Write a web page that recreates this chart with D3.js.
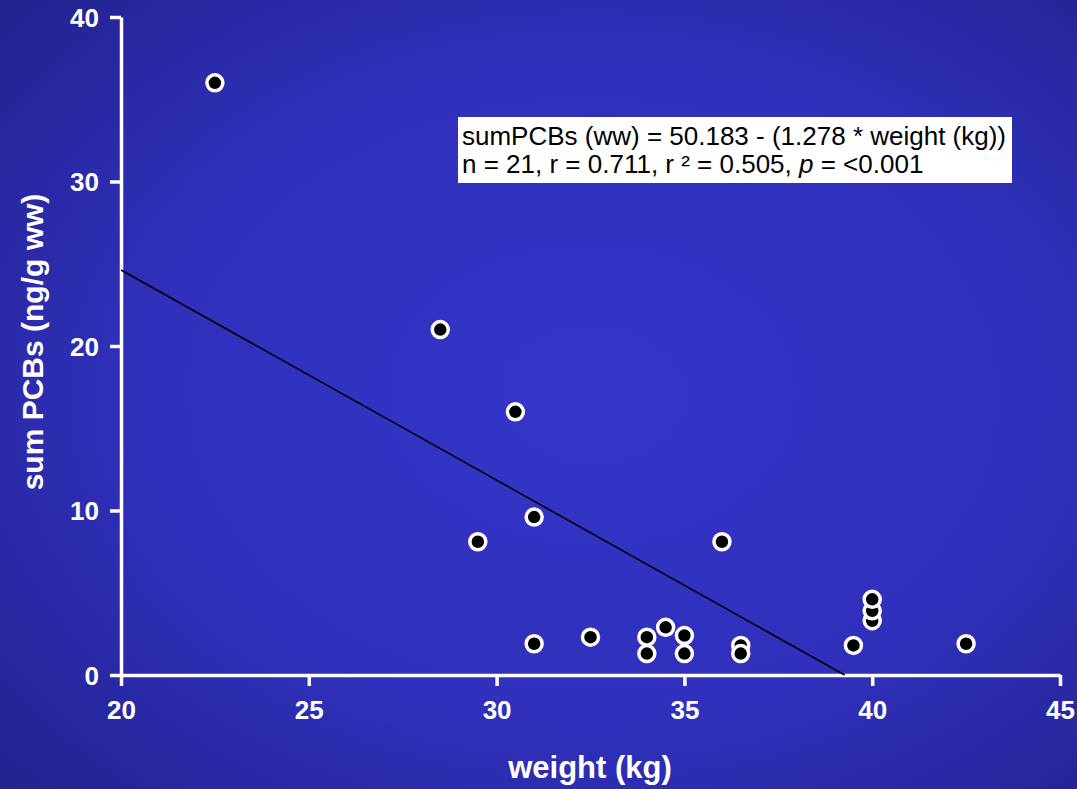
<!DOCTYPE html>
<html>
<head>
<meta charset="utf-8">
<script src="https://cdn.jsdelivr.net/npm/d3@7"></script>
<style>
  html, body { margin: 0; padding: 0; background: #2a2aa8; }
  svg { display: block; }
</style>
</head>
<body>
<svg id="chart" width="1077" height="789"></svg>
<script>
'use strict';

// data
var weights = [22.5, 28.5, 30.5, 29.5, 31, 31, 32.5, 34, 34, 34.5, 35, 35, 36, 36.5, 36.5, 39.5, 40, 40, 40, 42.5];
var sumPCBs = [36.0, 21.0, 16.0, 8.1, 9.6, 1.9, 2.3, 2.3, 1.3, 2.9, 2.4, 1.3, 8.1, 1.8, 1.3, 1.8, 3.3, 3.9, 4.6, 1.9];
var xTicks = [20, 25, 30, 35, 40, 45];
var yTicks = [0, 10, 20, 30, 40];
var fitIntercept = 50.183, fitSlope = -1.278;
var eqLines = ['sumPCBs (ww) = 50.183 - (1.278 * weight (kg))'];

var svg = d3.select('#chart');

// background gradient
var defs = svg.append('defs');
var grad = defs.append('radialGradient')
	.attr('id', 'bg')
	.attr('cx', '55%').attr('cy', '50%').attr('r', '75%');
grad.append('stop').attr('offset', '0%').attr('stop-color', '#3535c8');
grad.append('stop').attr('offset', '55%').attr('stop-color', '#3030bc');
grad.append('stop').attr('offset', '100%').attr('stop-color', '#22228e');
svg.append('rect').attr('width', 1077).attr('height', 789).attr('fill', 'url(#bg)');

var x = d3.scaleLinear().domain([20, 45]).range([121, 1060]);
var y = d3.scaleLinear().domain([0, 40]).range([675, 17]);

var font = '"Liberation Sans", Arial, sans-serif';

// axes
var yAxis = svg.append('g')
	.attr('transform', 'translate(' + x(20) + ',0)')
	.call(d3.axisLeft(y).tickValues(yTicks).tickSize(11).tickPadding(11).tickSizeOuter(0));
var xAxis = svg.append('g')
	.attr('transform', 'translate(0,' + y(0) + ')')
	.call(d3.axisBottom(x).tickValues(xTicks).tickSize(11).tickPadding(15).tickSizeOuter(0));

[xAxis, yAxis].forEach(function(a){
	a.select('.domain').attr('stroke', '#fff').attr('stroke-width', 3.5);
	a.selectAll('.tick line').attr('stroke', '#fff').attr('stroke-width', 3.5);
	a.selectAll('.tick text')
		.attr('fill', '#fff')
		.style('font-family', font)
		.style('font-weight', 'bold')
		.style('font-size', '26px');
});
yAxis.selectAll('.tick text').attr('dy', '0.36em');

// regression line, from x=20 down to where it meets 0
var xEnd = -fitIntercept / fitSlope;
svg.append('line')
	.attr('x1', x(20)).attr('y1', y(fitIntercept + fitSlope * 20))
	.attr('x2', x(xEnd)).attr('y2', y(0))
	.attr('stroke', '#000').attr('stroke-width', 1.6);

// points
svg.append('g').selectAll('circle')
	.data(weights)
	.enter().append('circle')
	.attr('cx', function(d){ return x(d); })
	.attr('cy', function(d, i){ return y(sumPCBs[i]); })
	.attr('r', 8)
	.attr('fill', '#000')
	.attr('stroke', '#fff')
	.attr('stroke-width', 3.5);

// equation box
svg.append('rect')
	.attr('x', 458).attr('y', 117).attr('width', 554).attr('height', 66)
	.attr('fill', '#fff');
var eq = svg.append('text')
	.style('font-family', font)
	.style('font-size', '26px')
	.attr('fill', '#000');
eq.append('tspan').attr('x', 462).attr('y', 145).text(eqLines[0]);
var l2 = eq.append('tspan').attr('x', 462).attr('y', 173);
l2.append('tspan').text('n = 21, r = 0.711, r \u00b2 = 0.505, ');
l2.append('tspan').style('font-style', 'italic').text('p');
l2.append('tspan').text(' = <0.001');

// axis titles
svg.append('text')
	.attr('x', 590).attr('y', 778)
	.attr('text-anchor', 'middle')
	.attr('fill', '#fff')
	.style('font-family', font)
	.style('font-weight', 'bold')
	.style('font-size', '31px')
	.text('weight (kg)');

svg.append('text')
	.attr('transform', 'translate(43,342) rotate(-90)')
	.attr('text-anchor', 'middle')
	.attr('fill', '#fff')
	.style('font-family', font)
	.style('font-weight', 'bold')
	.style('font-size', '30px')
	.text('sum PCBs (ng/g ww)');
</script>
</body>
</html>
